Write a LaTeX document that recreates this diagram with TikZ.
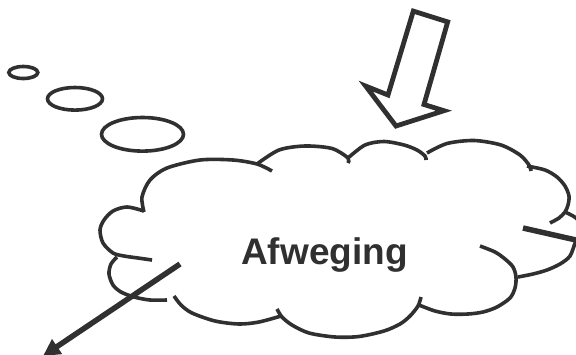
\documentclass[tikz,border=0pt]{standalone}
\usepackage{fontspec}
\setmainfont{Liberation Sans}
\usetikzlibrary{arrows.meta}
\definecolor{ink}{RGB}{48,48,48}
\begin{document}
\begin{tikzpicture}[x=1pt,y=-1pt,
  cloudline/.style={draw=ink,line width=3.6pt},
  bubble/.style={draw=ink,line width=3.6pt},
  blockarrow/.style={draw=ink,line width=4.8pt,line join=miter},
  connector/.style={draw=ink,line width=5.5pt},
  labeltext/.style={text=ink,font=\bfseries\fontsize{37}{37}\selectfont,anchor=base,inner sep=0pt}
]
\useasboundingbox (0,0) rectangle (576,354);
\clip (0,0) rectangle (576,354);
\fill[white] (0,0) rectangle (576,354);

% thought bubbles
\draw[bubble] (23.3,72.5) ellipse [x radius=14.5, y radius=6];
\draw[bubble] (75,98.8) ellipse [x radius=27.5, y radius=11.3];
\draw[bubble] (142.5,134.3) ellipse [x radius=41, y radius=16.8];

% cloud bumps
\draw[cloudline] plot[smooth] coordinates {(144,212) (142,197) (150,180) (167,168) (200,160) (233,160) (257,164) (272,171)};
\draw[cloudline] plot[smooth] coordinates {(257,164) (279,150) (305,146) (332,148.5) (348,158) (348,163)};
\draw[cloudline] plot[smooth] coordinates {(348,158) (365,145) (384,141.5) (404,145) (417,150) (425,156) (426,160)};
\draw[cloudline] plot[smooth] coordinates {(427,153) (447,143.5) (474,140.5) (501,145) (520,155) (529,165) (531,171)};
\draw[cloudline] plot[smooth] coordinates {(527,166) (545,170) (557,177) (565,186) (569,196) (568,205) (565,212) (559,218) (550,223)};
\draw[cloudline] plot[smooth] coordinates {(565,212) (576,218) (584,229) (576,241) (570,256) (560,264) (547,270) (533,274) (518,277)};
\draw[cloudline] plot[smooth] coordinates {(480,246) (495,252) (505,259) (513,267) (516,277) (515,288) (510,298) (497,307) (483,312) (468,314) (451,314) (435,311) (419,305)};
\draw[cloudline] plot[smooth] coordinates {(421,297) (418,306) (410,316) (400,324) (384,331) (359,336.5) (335,337) (309,333) (292,325) (282,317) (277,309)};
\draw[cloudline] plot[smooth] coordinates {(174,296) (181,305) (192,313) (215,321) (239,324) (259,322) (281,316)};
\draw[cloudline] plot[smooth] coordinates {(117,257) (111,264) (109,274) (113,285) (121,292) (134,297) (150,300) (167,300)};
\draw[cloudline] plot[smooth] coordinates {(144,211) (127,207) (113,211) (104,220) (100,230) (103,243) (113,253) (124,256) (138,258) (152,260)};

% block arrow
\draw[blockarrow] (413.3,11.1) -- (447.7,21.9) -- (424,104.5) -- (444,110.7) -- (396,126) -- (365.7,86.1) -- (388,95) -- cycle;

% label
\node[labeltext] (label) at (324.5,264) {Afweging};

% connectors
\coordinate (lstart) at (180,264);
\coordinate (ltip) at (43,356);
\draw[connector,-{Triangle[length=17pt,width=17pt]}] (lstart) -- (ltip);
\coordinate (rstart) at (523,228);
\coordinate (rend) at (610,247.7);
\draw[connector] (rstart) -- (rend);
\end{tikzpicture}
\end{document}
